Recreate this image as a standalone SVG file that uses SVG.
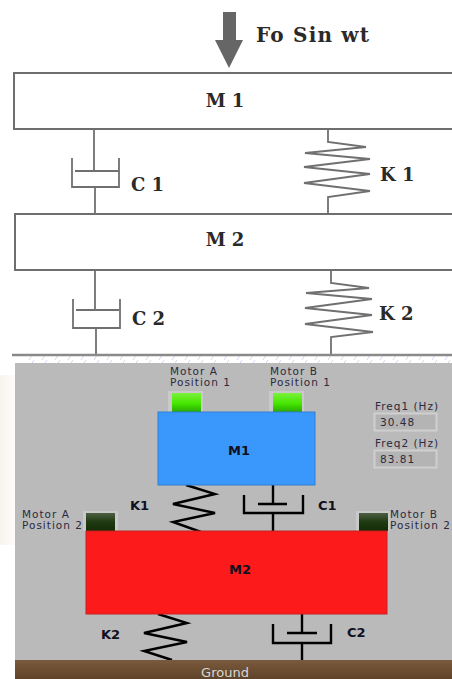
<svg xmlns="http://www.w3.org/2000/svg" width="452" height="679" viewBox="0 0 452 679">
<defs>
<style>
.sk{fill:none;stroke:#707070;stroke-width:1.8}
.box{fill:#fff;stroke:#6e6e6e;stroke-width:2}
.ser{font-family:"DejaVu Serif",serif;font-weight:bold;fill:#2a2a2a;font-size:18px}
.san{font-family:"DejaVu Sans",sans-serif;font-size:10.5px;letter-spacing:1px;fill:#2b2b40}
.bold{font-family:"DejaVu Sans",sans-serif;font-size:13px;font-weight:bold;fill:#101020}
.bk{fill:none;stroke:#000;stroke-width:2.4}
.fr{fill:#c9c9c9}
</style>
<linearGradient id="bg" x1="0" y1="0" x2="1" y2="0"><stop offset="0" stop-color="#f8f4ee"/><stop offset="1" stop-color="#fdfcfa"/></linearGradient>
<linearGradient id="on" x1="0" y1="0" x2="0" y2="1"><stop offset="0" stop-color="#7cf03c"/><stop offset=".55" stop-color="#45e800"/><stop offset="1" stop-color="#2aa800"/></linearGradient>
<linearGradient id="off" x1="0" y1="0" x2="0" y2="1"><stop offset="0" stop-color="#4c5f42"/><stop offset=".5" stop-color="#1f3a12"/><stop offset="1" stop-color="#142c06"/></linearGradient>
<linearGradient id="gnd" x1="0" y1="0" x2="0" y2="1"><stop offset="0" stop-color="#7a5a3e"/><stop offset="1" stop-color="#5f4329"/></linearGradient>
<pattern id="hatch" width="13" height="8" patternUnits="userSpaceOnUse"><path d="M3 8L8 0" stroke="#d6d6ee" stroke-width="1"/></pattern>
</defs>
<rect width="452" height="679" fill="#fff"/>
<rect x="0" y="375" width="15" height="170" fill="url(#bg)"/>
<rect x="25" y="356" width="427" height="7" fill="url(#hatch)"/>
<rect id="panel" x="15" y="363" width="437" height="316" fill="#bababa"/>
<g id="connectors">
<path class="sk" d="M94 130V170M75 171H119M72 158V187H119V158M95 188V214"/>
<path class="sk" d="M328 130V142L366 147L305 153L370 159L304 167L370 174L304 183L370 191L328 197V214"/>
<path class="sk" d="M95 271V310M76 310H119M73 299V328H120V299M96 329V355"/>
<path class="sk" d="M331 271V283L369 288L306 293L372 299L305 308L372 315L305 324L373 332L331 337V355"/>
<path class="bk" d="M186 485L215 494L173 504L215 513L173 522L201 532"/>
<path class="bk" d="M273 485V504M258 504H287M244 495V513H303V495M273 513V531"/>
<path class="bk" d="M158 614L187 623L144 633L187 642L144 651L172 660"/>
<path class="bk" d="M302 614V633M287 633H317M273 624V643H331V624M302 643V660"/>
</g>
<g id="force">
<path d="M223 12H236V40H243L229 68L215 40H223Z" fill="#666"/>
<text class="ser" x="256" y="42" style="font-size:20px;letter-spacing:1.2px">Fo Sin wt</text>
</g>
<g id="m1-top"><rect class="box" x="14" y="73" width="440" height="56"/><text class="ser" x="225" y="107" text-anchor="middle">M 1</text></g>
<g id="m2-top"><rect class="box" x="15" y="214" width="439" height="56"/><text class="ser" x="225" y="246" text-anchor="middle">M 2</text></g>
<path id="ground-line" d="M12 355H452" stroke="#8a8a8a" stroke-width="2.500" fill="none"/>
<g id="labels-top">
<text class="ser" x="131" y="191">C 1</text>
<text class="ser" x="380" y="181">K 1</text>
<text class="ser" x="132" y="325">C 2</text>
<text class="ser" x="379" y="320">K 2</text>
</g>
<g id="led-a1"><rect class="fr" x="168" y="391" width="35" height="21"/><rect x="172" y="393" width="29" height="19" fill="url(#on)"/><text class="san" x="170" y="375">Motor A</text><text class="san" x="170" y="386">Position 1</text></g>
<g id="led-b1"><rect class="fr" x="269" y="391" width="35" height="21"/><rect x="273" y="393" width="29" height="19" fill="url(#on)"/><text class="san" x="270" y="375">Motor B</text><text class="san" x="270" y="386">Position 1</text></g>
<g id="led-a2"><rect class="fr" x="83" y="511" width="35" height="20"/><rect x="86" y="513" width="29" height="18" fill="url(#off)"/><text class="san" x="22" y="518">Motor A</text><text class="san" x="22" y="529">Position 2</text></g>
<g id="led-b2"><rect class="fr" x="356" y="511" width="34" height="20"/><rect x="359" y="513" width="29" height="18" fill="url(#off)"/><text class="san" x="390" y="518">Motor B</text><text class="san" x="390" y="529">Position 2</text></g>
<g id="m1"><rect x="158" y="412" width="157" height="73" fill="#3a98fc" stroke="#2e7fd4" stroke-width="1"/><text class="bold" x="239" y="454.500" text-anchor="middle">M1</text></g>
<g id="m2"><rect x="86" y="531" width="301" height="83" fill="#fd1a1a" stroke="#c42020" stroke-width="1"/><text class="bold" x="240" y="574" text-anchor="middle">M2</text></g>
<g id="freq1"><text class="san" x="375" y="410">Freq1 (Hz)</text><rect x="374.500" y="413.500" width="62" height="17" fill="#b4b4b4" stroke="#cfcfcf" stroke-width="2"/><text class="san" x="380" y="426">30.48</text></g>
<g id="freq2"><text class="san" x="375" y="447">Freq2 (Hz)</text><rect x="374.500" y="450.500" width="62" height="17" fill="#b4b4b4" stroke="#cfcfcf" stroke-width="2"/><text class="san" x="380" y="463">83.81</text></g>
<g id="labels-panel">
<text class="bold" x="130" y="510">K1</text>
<text class="bold" x="318" y="510">C1</text>
<text class="bold" x="101" y="639">K2</text>
<text class="bold" x="347" y="637">C2</text>
</g>
<g id="ground"><rect x="15" y="660" width="437" height="19" fill="url(#gnd)"/><text x="225" y="677" text-anchor="middle" font-family="DejaVu Sans,sans-serif" font-size="13" fill="#d8d8d8">Ground</text></g>
</svg>
